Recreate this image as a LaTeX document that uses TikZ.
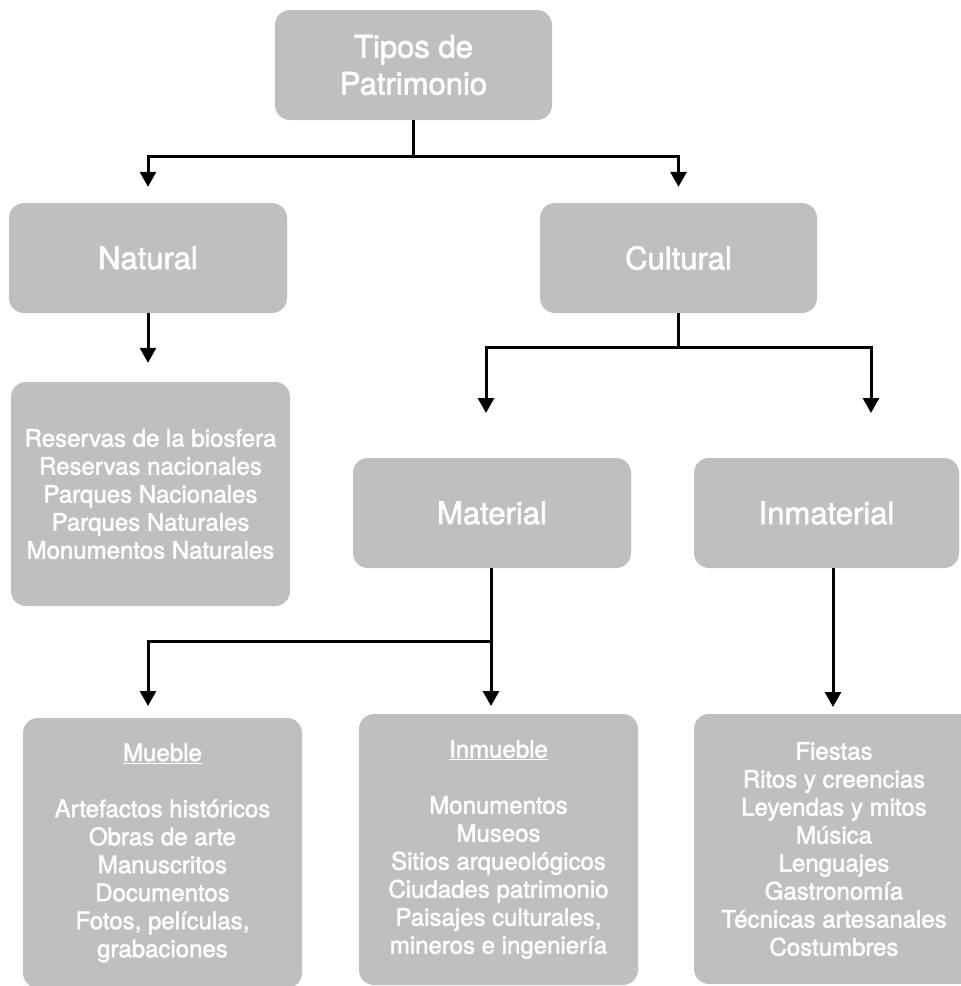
\documentclass[tikz,border=0pt]{standalone}
\usepackage{fontspec}
\setmainfont[FakeBold=2]{TeX Gyre Heros}
\usetikzlibrary{arrows.meta}
\definecolor{boxgray}{RGB}{191,191,191}

\begin{document}
\begin{tikzpicture}[x=1pt,y=-1pt]
        \tikzstyle{box}=[rectangle,rounded corners=15pt,fill=boxgray,text=white,align=center,inner sep=0pt]
        \tikzstyle{head}=[box,minimum height=110pt,font=\fontsize{31}{37}\selectfont]
        \tikzstyle{list}=[box,font=\fontsize{24}{28}\selectfont]
        \tikzstyle{line}=[line width=3pt]
        \tikzstyle{arrow}=[line,-{Triangle[width=16pt,length=15pt]}]
        \clip (0,0) rectangle (961,986);
        % first row
        \node[head,minimum width=277pt] (tipos) at (413.5,65) {Tipos de\\Patrimonio};
        \node[head,minimum width=278pt] (natural) at (148,258) {Natural};
        \node[head,minimum width=277pt] (cultural) at (678.5,258) {Cultural};
        \node[list,minimum width=279pt,minimum height=224pt] (natlist) at (150.5,494)
        {Reservas de la biosfera\\Reservas nacionales\\Parques Nacionales\\Parques Naturales\\Monumentos Naturales};
        % cultural branch
        \node[head,minimum width=278pt] (material) at (492,513) {Material};
        \node[head,minimum width=265pt] (inmaterial) at (826.5,513) {Inmaterial};
        \node[list,minimum width=279pt,minimum height=270pt] (mueble) at (162.5,853)
        {\underline{Mueble}\\[28pt]Artefactos históricos\\Obras de arte\\Manuscritos\\Documentos\\Fotos, películas,\\grabaciones};
        \node[list,minimum width=279pt,minimum height=271pt] (inmueble) at (498.5,849.5)
        {\underline{Inmueble}\\[28pt]Monumentos\\Museos\\Sitios arqueológicos\\Ciudades patrimonio\\Paisajes culturales,\\mineros e ingeniería};
        \node[list,minimum width=280pt,minimum height=270pt] (inflist) at (834,849)
        {Fiestas\\Ritos y creencias\\Leyendas y mitos\\Música\\Lenguajes\\Gastronomía\\Técnicas artesanales\\Costumbres};
        % connectors
        \coordinate (fork1) at (413.5,156);
        \coordinate (fork2) at (678.5,347);
        \coordinate (fork3) at (491,641);
        \coordinate (tipmat) at (486,413);
        \coordinate (tipinm) at (871,413);
        \coordinate (tipmue) at (148,706);
        \coordinate (tipinmu) at (491,706);
        \coordinate (tipinf) at (833,707);
        \draw[line] (tipos) -- (fork1);
        \draw[arrow,shorten >=16pt] (fork1) -| (natural.north);
        \draw[arrow,shorten >=16pt] (fork1) -| (cultural.north);
        \draw[arrow,shorten >=19pt] (natural.south) -- (natural.south |- natlist.north);
        \draw[line] (cultural) -- (fork2);
        \draw[arrow] (fork2) -| (tipmat);
        \draw[arrow] (fork2) -| (tipinm);
        \draw[line] (material.south -| fork3) -- (fork3);
        \draw[arrow] (fork3) -| (tipmue);
        \draw[arrow] (fork3) -- (tipinmu);
        \draw[arrow] (inmaterial.south -| tipinf) -- (tipinf);
\end{tikzpicture}
\end{document}
